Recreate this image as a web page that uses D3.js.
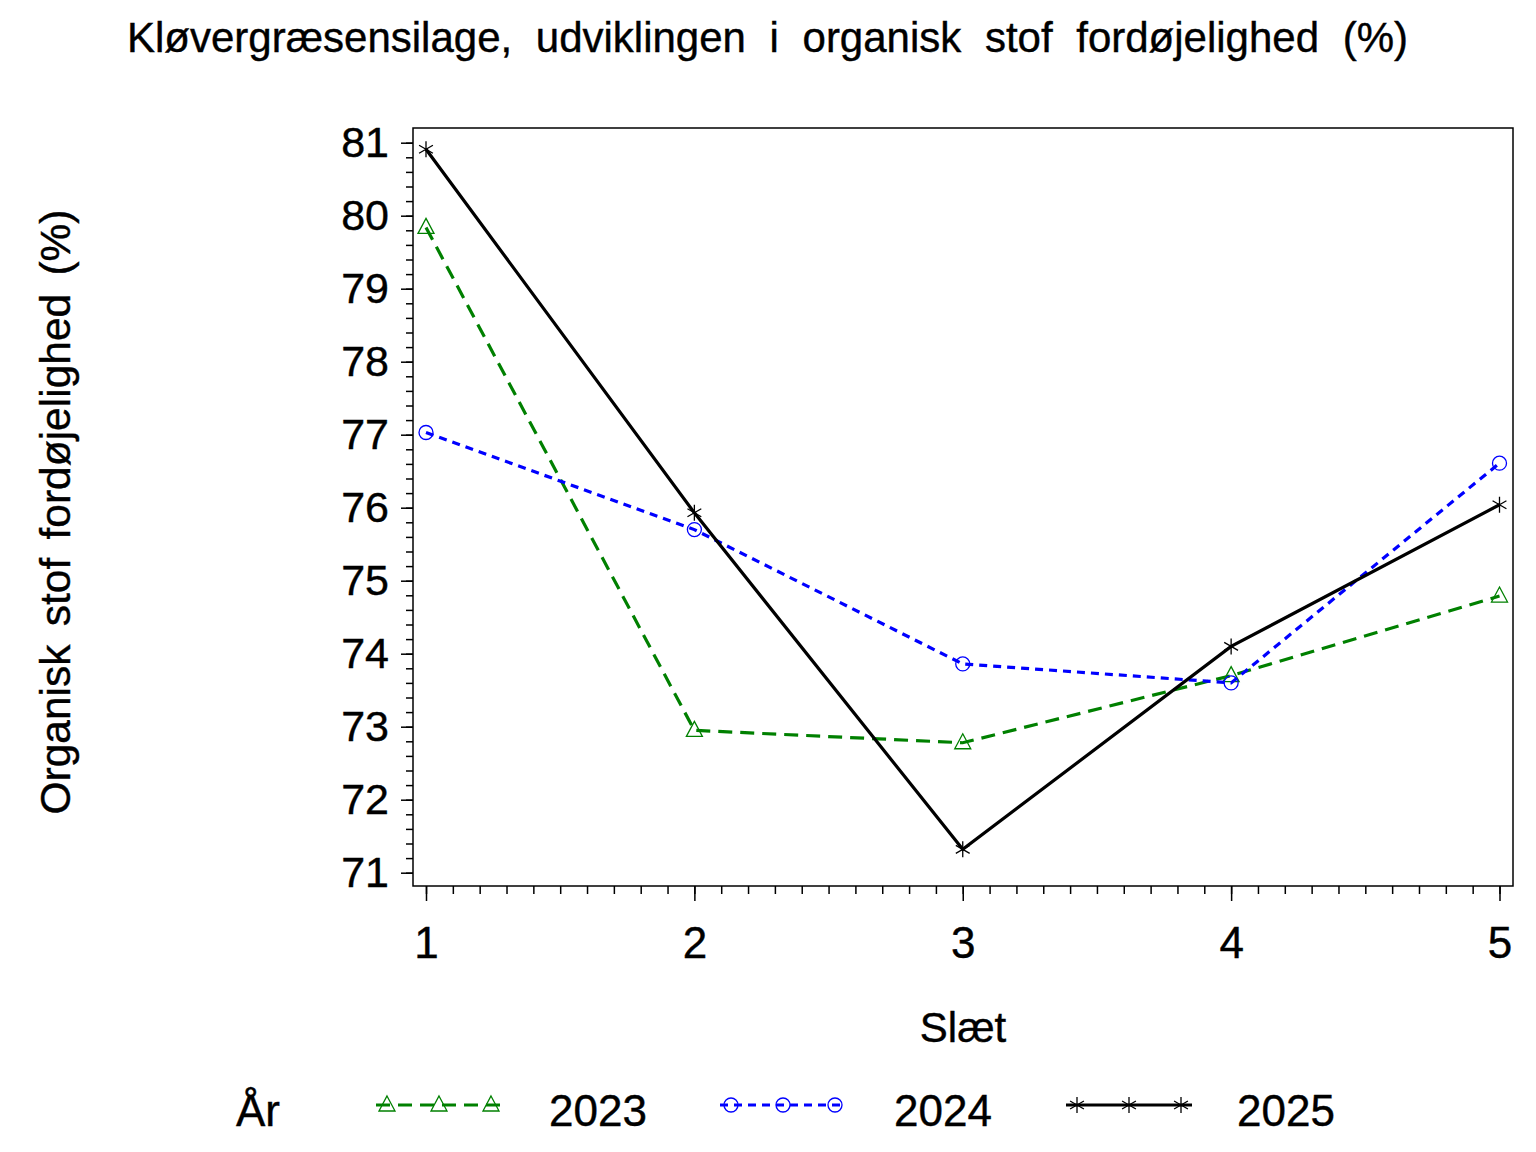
<!DOCTYPE html>
<html>
<head>
<meta charset="utf-8">
<script src="https://cdn.jsdelivr.net/npm/d3@7"></script>
<style>
  body { margin: 0; background: #fff; }
  text { font-family: "Liberation Sans", Arial, sans-serif; fill: #000; stroke: #000; stroke-width: 0.4; }
</style>
</head>
<body>
<svg width="1536" height="1152"></svg>
<script>
var slaet = [1, 2, 3, 4, 5];
var years = ["2023", "2024", "2025"];
var values2023 = [79.84, 72.95, 72.78, 73.70, 74.79];
var values2024 = [77.03, 75.70, 73.86, 73.60, 76.61];
var values2025 = [80.91, 75.93, 71.32, 74.10, 76.04];
var yTicks = [71, 72, 73, 74, 75, 76, 77, 78, 79, 80, 81];
var xTicks = [1, 2, 3, 4, 5];

var seriesValues = [values2023, values2024, values2025];
var colors = ["#008000", "#0000ff", "#000000"];
var dashes = ["14,8", "8,6", null];
var symbols = ["triangle", "circle", "star"];

var svg = d3.select("svg");

var frame = {left: 413, right: 1513, top: 128, bottom: 886};

var x = d3.scaleLinear().domain([1, 5]).range([426, 1499.5]);
var y = d3.scaleLinear().domain([71, 81]).range([872.7, 142.7]);

// spread words so a text fills a given width (SAS-like spacing)
function fitWords(sel, width) {
  var node = sel.node();
  var natural = node.getComputedTextLength();
  var spaces = (sel.text().match(/ /g) || []).length;
  if (spaces > 0) sel.attr("word-spacing", Math.max(0, (width - natural) / spaces));
}

// title
var title = svg.append("text")
    .attr("x", 127)
    .attr("y", 52)
    .attr("font-size", 42)
    .text("Kløvergræsensilage, udviklingen i organisk stof fordøjelighed (%)");
fitWords(title, 1281);

// frame
svg.append("rect")
    .attr("x", frame.left)
    .attr("y", frame.top)
    .attr("width", frame.right - frame.left)
    .attr("height", frame.bottom - frame.top)
    .attr("fill", "none")
    .attr("stroke", "#000")
    .attr("stroke-width", 1.5);

// y axis
var yMinor = d3.range(71, 81.001, 0.2);
var yAxisMinor = d3.axisLeft(y).tickValues(yMinor).tickSize(7).tickFormat("");
var yAxis = d3.axisLeft(y).tickValues(yTicks).tickSize(12).tickPadding(12)
    .tickFormat(d3.format("d"));

svg.append("g")
    .attr("transform", "translate(" + frame.left + ",0)")
    .call(yAxisMinor)
    .call(function(g) { g.select(".domain").remove(); });

var gy = svg.append("g")
    .attr("transform", "translate(" + frame.left + ",0)")
    .call(yAxis)
    .call(function(g) { g.select(".domain").remove(); });
gy.selectAll("text").attr("font-size", 43).attr("font-family", "Liberation Sans").attr("fill", "#000");

// x axis
var xMinor = d3.range(1, 5.001, 0.1);
var xAxisMinor = d3.axisBottom(x).tickValues(xMinor).tickSize(8).tickFormat("");
var xAxis = d3.axisBottom(x).tickValues(xTicks).tickSize(15).tickPadding(26)
    .tickFormat(d3.format("d"));

svg.append("g")
    .attr("transform", "translate(0," + frame.bottom + ")")
    .call(xAxisMinor)
    .call(function(g) { g.select(".domain").remove(); });

var gx = svg.append("g")
    .attr("transform", "translate(0," + frame.bottom + ")")
    .call(xAxis)
    .call(function(g) { g.select(".domain").remove(); });
gx.selectAll("text").attr("font-size", 44).attr("font-family", "Liberation Sans").attr("fill", "#000");

svg.selectAll(".tick line").attr("stroke", "#000").attr("stroke-width", 1.5);

// axis titles
svg.append("text")
    .attr("x", 963)
    .attr("y", 1042)
    .attr("text-anchor", "middle")
    .attr("font-size", 42)
    .text("Slæt");

var ylab = svg.append("text")
    .attr("transform", "translate(70,512) rotate(-90)")
    .attr("text-anchor", "middle")
    .attr("font-size", 42.5)
    .text("Organisk stof fordøjelighed (%)");
fitWords(ylab, 605);

// markers
function drawMarker(g, type, cx, cy, color) {
  if (type === "triangle") {
    g.append("path")
        .attr("d", "M" + cx + "," + (cy - 9) + "L" + (cx + 8) + "," + (cy + 6) +
                   "L" + (cx - 8) + "," + (cy + 6) + "Z")
        .attr("fill", "none").attr("stroke", color).attr("stroke-width", 1.3);
  } else if (type === "circle") {
    g.append("circle")
        .attr("cx", cx).attr("cy", cy).attr("r", 7)
        .attr("fill", "none").attr("stroke", color).attr("stroke-width", 1.3);
  } else {
    var r = 8;
    var p = "M" + cx + "," + (cy - r) + "L" + cx + "," + (cy + r);
    var dx = r * Math.cos(Math.PI / 6), dy = r * Math.sin(Math.PI / 6);
    p += "M" + (cx - dx) + "," + (cy - dy) + "L" + (cx + dx) + "," + (cy + dy);
    p += "M" + (cx - dx) + "," + (cy + dy) + "L" + (cx + dx) + "," + (cy - dy);
    g.append("path").attr("d", p).attr("stroke", color).attr("stroke-width", 1.3);
  }
}

var line = d3.line()
    .x(function(d) { return x(d.s); })
    .y(function(d) { return y(d.v); });

years.forEach(function(yr, i) {
  var data = slaet.map(function(s, j) { return {s: s, v: seriesValues[i][j]}; });
  var g = svg.append("g");
  g.append("path")
      .datum(data)
      .attr("d", line)
      .attr("fill", "none")
      .attr("stroke", colors[i])
      .attr("stroke-width", 3.2)
      .attr("stroke-dasharray", dashes[i]);
  data.forEach(function(d) {
    drawMarker(g, symbols[i], x(d.s), y(d.v), colors[i]);
  });
});

// legend
var legY = 1105;
svg.append("text")
    .attr("x", 236)
    .attr("y", legY + 21)
    .attr("font-size", 44)
    .text("År");

var legX = [376, 720, 1066];
var legTextX = [549, 894, 1237];
years.forEach(function(yr, i) {
  var g = svg.append("g");
  g.append("line")
      .attr("x1", legX[i]).attr("x2", legX[i] + 126)
      .attr("y1", legY).attr("y2", legY)
      .attr("stroke", colors[i])
      .attr("stroke-width", 3.2)
      .attr("stroke-dasharray", dashes[i]);
  [11, 63, 115].forEach(function(off) {
    drawMarker(g, symbols[i], legX[i] + off, legY, colors[i]);
  });
  svg.append("text")
      .attr("x", legTextX[i])
      .attr("y", legY + 21)
      .attr("font-size", 44)
      .text(yr);
});
</script>
</body>
</html>
